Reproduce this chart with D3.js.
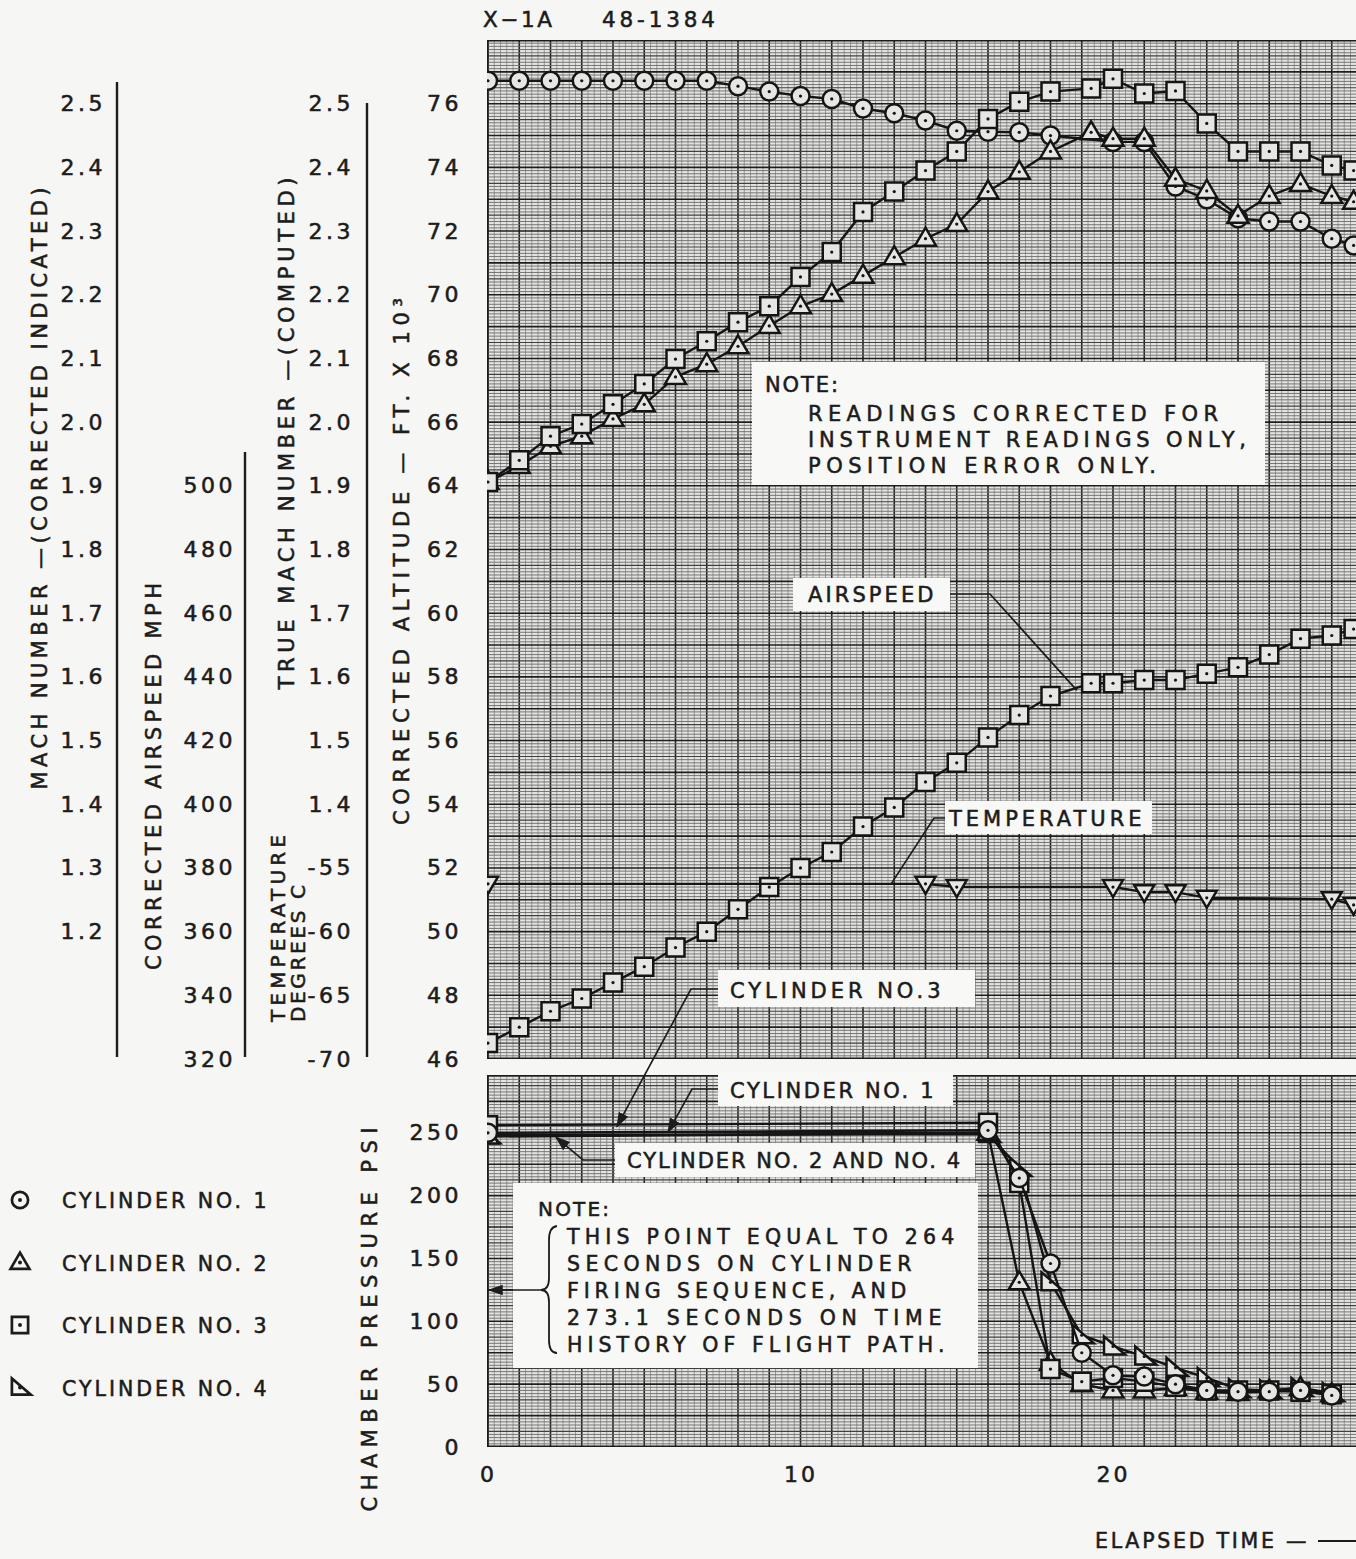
<!DOCTYPE html>
<html>
<head>
<meta charset="utf-8">
<script src="https://cdn.jsdelivr.net/npm/d3@7"></script>
<style>
body { margin: 0; background: #f6f6f4; }
text { font-family: "DejaVu Sans", sans-serif; fill: #1c1c1c; stroke: #1c1c1c; stroke-width: 0.55px; }
</style>
</head>
<body>
<div id="chart"></div>
<script>
// X-1A 48-1384 time history

// upper panel: seconds where the mach / airspeed points were plotted
var upperTime = [0,1,2,3,4,5,6,7,8,9,10,11,12,13,14,15,16,17,18,19.3,20,21,22,23,24,25,26,27,27.7];
var indicatedMach = [1.906,1.940,1.978,1.997,2.028,2.060,2.099,2.127,2.157,2.182,2.228,2.267,2.330,2.362,2.395,
                     2.425,2.476,2.503,2.519,2.524,2.539,2.516,2.520,2.469,2.425,2.425,2.425,2.403,2.395];
var trueMach = [1.906,1.931,1.962,1.978,2.005,2.028,2.071,2.091,2.119,2.151,2.182,2.201,2.230,2.259,2.288,
                2.311,2.362,2.393,2.425,2.455,2.445,2.445,2.382,2.363,2.324,2.355,2.374,2.355,2.346];
var airspeed = [325,330,335,339,344,349,355,360,367,374,380,385,393,399,407,413,421,428,434,438,438,439,439,441,443,447,452,453,455];

var altitudeTime = [0,1,2,3,4,5,6,7,8,9,10,11,12,13,14,15,16,17,18,20,21,22,23,24,25,26,27,27.7];
var altitude = [76.72,76.72,76.72,76.72,76.72,76.72,76.72,76.72,76.55,76.38,76.24,76.15,75.85,75.7,75.47,75.15,75.12,75.1,75.0,
                74.8,74.8,73.4,73.0,72.4,72.3,72.3,71.76,71.55];

var tempTime = [0,14,15,20,21,22,23,27,27.7];
var temperature = [-56.25,-56.25,-56.5,-56.5,-56.9,-56.9,-57.35,-57.45,-57.9];

// lower panel: chamber pressure of the four rocket cylinders
var pressureTime = [0,16,17,18,19,20,21,22,23,24,25,26,27];
var cylinder1 = [250,252,214,146,75,57,56,50,45,44,44,45,41];
var cylinder2 = [247,250,131,67,50,45,45,47,44,43,45,47,42];
var cylinder3 = [256,258,210,62,52,55,52,48,45,45,45,44,42];
var cylinder4 = [248,249,222,131,89,80,72,63,55,46,45,47,43];

// tick labels
var xTicks = [0, 10, 20];
var indMachTicks = [2.5,2.4,2.3,2.2,2.1,2.0,1.9,1.8,1.7,1.6,1.5,1.4,1.3,1.2];
var speedTicks = [500,480,460,440,420,400,380,360,340,320];
var trueMachTicks = [2.5,2.4,2.3,2.2,2.1,2.0,1.9,1.8,1.7,1.6,1.5,1.4];
var tempTicks = [-55,-60,-65,-70];
var altTicks = [76,74,72,70,68,66,64,62,60,58,56,54,52,50,48,46];
var pressureTicks = [250,200,150,100,50,0];

var width = 1356, height = 1559;
var plotLeft = 487, plotRight = 1362;
var upTop = 40, upBottom = 1059;
var lowTop = 1075, lowBottom = 1447;

var svg = d3.select("#chart").append("svg")
    .attr("width", width)
    .attr("height", height);

var xScale = d3.scaleLinear().domain([0, 28]).range([488, 488 + 28 * 31.25]);
// all upper scales share the same paper, only the units differ
var altScale = d3.scaleLinear().domain([46, 78]).range([upBottom, upTop]);
var machScale = d3.scaleLinear().domain([1.0, 2.6]).range([upBottom, upTop]);
var speedScale = d3.scaleLinear().domain([320, 640]).range([upBottom, upTop]);
var tempScale = d3.scaleLinear().domain([-70, 10]).range([upBottom, upTop]);
var pressScale = d3.scaleLinear().domain([0, 296]).range([lowBottom, lowTop]);

var defs = svg.append("defs");
defs.append("clipPath").attr("id", "clipUp").append("rect")
    .attr("x", plotLeft).attr("y", upTop).attr("width", plotRight - plotLeft).attr("height", upBottom - upTop);
defs.append("clipPath").attr("id", "clipLow").append("rect")
    .attr("x", plotLeft).attr("y", lowTop).attr("width", plotRight - plotLeft).attr("height", lowBottom - lowTop);
defs.append("marker").attr("id", "arrow")
    .attr("viewBox", "0 0 10 10").attr("refX", 9).attr("refY", 5)
    .attr("markerWidth", 9).attr("markerHeight", 9).attr("orient", "auto-start-reverse")
    .append("path").attr("d", "M0,1.5L10,5L0,8.5Z").attr("fill", "#1c1c1c");

// graph paper
function drawGrid(clipId, yScale, fineStep, midStep, majorStep) {
    var g = svg.append("g").attr("clip-path", "url(#" + clipId + ")");
    var yd = yScale.domain(), yr = yScale.range();
    g.append("rect").attr("x", plotLeft).attr("y", yr[1])
        .attr("width", plotRight - plotLeft).attr("height", yr[0] - yr[1]).attr("fill", "#e4e4e2");
    var nV = Math.round(28 / 0.2);
    for (var i = 0; i <= nV; i++) {
        var t = i * 0.2;
        var major = (i % 5 == 0);
        g.append("line")
            .attr("x1", xScale(t)).attr("x2", xScale(t))
            .attr("y1", yr[1]).attr("y2", yr[0])
            .attr("stroke", major ? "#202020" : "#8a8a8a")
            .attr("stroke-width", major ? 1.6 : 0.8);
    }
    var nH = Math.round((yd[1] - yd[0]) / fineStep);
    for (var j = 0; j <= nH; j++) {
        var v = yd[0] + j * fineStep;
        var isMajor = (j % Math.round(majorStep / fineStep) == 0);
        var isMid = (j % Math.round(midStep / fineStep) == 0);
        g.append("line")
            .attr("x1", plotLeft).attr("x2", plotRight)
            .attr("y1", yScale(v)).attr("y2", yScale(v))
            .attr("stroke", isMajor ? "#1e1e1e" : (isMid ? "#404040" : "#6a6a6a"))
            .attr("stroke-width", isMajor ? 1.6 : (isMid ? 1.2 : 0.9));
    }
    g.append("rect").attr("x", plotLeft).attr("y", yr[1])
        .attr("width", plotRight - plotLeft).attr("height", yr[0] - yr[1])
        .attr("fill", "none").attr("stroke", "#1c1c1c").attr("stroke-width", 3);
}
drawGrid("clipUp", altScale, 0.1, 0.5, 1);
drawGrid("clipLow", pressScale, 2.5, 12.5, 25);

// white label patches laid over the paper
function patch(x, y, w, h) {
    svg.append("rect").attr("x", x).attr("y", y).attr("width", w).attr("height", h).attr("fill", "#f8f8f6");
}
patch(752, 362, 513, 123);
patch(793, 578, 157, 33);
patch(945, 801, 207, 33);
patch(718, 970, 257, 37);
patch(718, 1073, 235, 33);
patch(615, 1143, 360, 34);
patch(513, 1183, 465, 185);

function label(x, y, str, size, spacing, len) {
    var t = svg.append("text").attr("x", x).attr("y", y)
        .attr("font-size", size).attr("letter-spacing", spacing).text(str);
    if (len) t.attr("textLength", len).attr("lengthAdjust", "spacing");
    return t;
}

// series helpers
var shapes = {
    circle: "M9,0A9,9 0 1,1 -9,0A9,9 0 1,1 9,0Z",
    square: "M-9,-9H9V9H-9Z",
    triUp: "M0,-11L10.5,7H-10.5Z",
    triDown: "M-10,-7H10L0,10Z",
    triRight: "M-9,-10L-9,8H12Z"
};

function drawSeries(clipId, times, values, yScale, shape) {
    var pts = times.map(function (t, i) { return [t, values[i]]; });
    var g = svg.append("g").attr("clip-path", "url(#" + clipId + ")");
    var line = d3.line()
        .x(function (d) { return xScale(d[0]); })
        .y(function (d) { return yScale(d[1]); });
    g.append("path").datum(pts).attr("d", line)
        .attr("fill", "none").attr("stroke", "#151515").attr("stroke-width", 2.4);
    var m = g.selectAll(".pt").data(pts).enter().append("g")
        .attr("transform", function (d) { return "translate(" + xScale(d[0]) + "," + yScale(d[1]) + ")"; });
    m.append("path").attr("d", shapes[shape])
        .attr("fill", "#e6e6e4").attr("stroke", "#151515").attr("stroke-width", 2.5);
    m.append("circle").attr("r", 1.6).attr("fill", "#151515");
}

drawSeries("clipUp", altitudeTime, altitude, altScale, "circle");
drawSeries("clipUp", upperTime, trueMach, machScale, "triUp");
drawSeries("clipUp", upperTime, indicatedMach, machScale, "square");
drawSeries("clipUp", upperTime, airspeed, speedScale, "square");
drawSeries("clipUp", tempTime, temperature, tempScale, "triDown");

drawSeries("clipLow", pressureTime, cylinder4, pressScale, "triRight");
drawSeries("clipLow", pressureTime, cylinder2, pressScale, "triUp");
drawSeries("clipLow", pressureTime, cylinder3, pressScale, "square");
drawSeries("clipLow", pressureTime, cylinder1, pressScale, "circle");

// leaders from the label boxes
function leader(points, arrow) {
    var p = svg.append("path").attr("d", d3.line()(points))
        .attr("fill", "none").attr("stroke", "#1c1c1c").attr("stroke-width", 1.7);
    if (arrow) p.attr("marker-end", "url(#arrow)");
}
leader([[950, 594], [990, 594], [xScale(19.1) - 8, speedScale(437) + 4]], false);
leader([[945, 818], [934, 818], [xScale(12.9), tempScale(-56.25)]], false);
leader([[718, 989], [691, 989], [617, pressScale(252) - 4]], true);
leader([[718, 1089], [692, 1089], [668, pressScale(249) - 2]], true);
leader([[615, 1160], [583, 1160], [556, pressScale(248) + 2]], true);

// note text boxes
label(765, 392, "NOTE:", 21, 3, 76);
label(808, 421, "READINGS  CORRECTED FOR", 21, 4, 414);
label(808, 447, "INSTRUMENT READINGS ONLY,", 21, 4, 442);
label(808, 473, "POSITION  ERROR  ONLY.", 21, 4, 352);

label(808, 602, "AIRSPEED", 21, 3.5, 129);
label(949, 826, "TEMPERATURE", 21, 3.5, 196);
label(730, 998, "CYLINDER  NO.3", 21, 3.5, 214);
label(730, 1098, "CYLINDER NO. 1", 21, 3.5, 207);
label(627, 1168, "CYLINDER NO. 2 AND NO. 4", 21, 3, 336);

label(538, 1216, "NOTE:", 20, 3, 74);
var noteLines = ["THIS POINT  EQUAL TO 264", "SECONDS  ON  CYLINDER", "FIRING SEQUENCE, AND",
                 "273.1  SECONDS  ON  TIME", "HISTORY  OF  FLIGHT  PATH."];
var noteLens = [391, 348, 343, 378, 381];
noteLines.forEach(function (s, i) {
    label(567, 1244 + i * 27, s, 20.5, 3.6, noteLens[i]);
});
svg.append("path")
    .attr("d", "M557,1226 Q549,1227 549,1240 L549,1278 Q549,1290 541,1290 Q549,1290 549,1302 L549,1340 Q549,1353 557,1353")
    .attr("fill", "none").attr("stroke", "#1c1c1c").attr("stroke-width", 1.8);
leader([[541, 1290], [489, 1290]], true);

// axes: text only, as on the original sheet
function tickAxis(x, scale, ticks, fmt) {
    var g = svg.append("g").attr("transform", "translate(" + x + ",0)")
        .call(d3.axisLeft(scale).tickValues(ticks).tickSize(0).tickPadding(0).tickFormat(fmt));
    g.select(".domain").remove();
    g.selectAll("text").attr("font-size", 22).attr("letter-spacing", 3.5)
        .attr("font-family", "DejaVu Sans").attr("fill", "#1c1c1c");
    return g;
}
tickAxis(106, machScale, indMachTicks, d3.format(".1f"));
tickAxis(236, speedScale, speedTicks, d3.format("d"));
tickAxis(354, machScale, trueMachTicks, d3.format(".1f"));
tickAxis(354, tempScale, tempTicks, function (d) { return "-" + Math.abs(d); });
tickAxis(462, altScale, altTicks, d3.format("d"));
tickAxis(462, pressScale, pressureTicks, d3.format("d"));

var xg = svg.append("g").attr("transform", "translate(0," + lowBottom + ")")
    .call(d3.axisBottom(xScale).tickValues(xTicks).tickSize(0).tickPadding(19));
xg.select(".domain").remove();
xg.selectAll("text").attr("font-size", 22).attr("letter-spacing", 3)
    .attr("font-family", "DejaVu Sans").attr("fill", "#1c1c1c");

// scale rules between the label columns
function rule(x, y1, y2) {
    svg.append("line").attr("x1", x).attr("x2", x).attr("y1", y1).attr("y2", y2)
        .attr("stroke", "#1c1c1c").attr("stroke-width", 2.4);
}
rule(117, 82, 1057);
rule(245, 452, 1057);
rule(367, 103, 1057);

// axis titles
function vTitle(cx, cy, str, size, len, anchor) {
    svg.append("text").attr("transform", "translate(" + cx + "," + cy + ") rotate(-90)")
        .attr("font-size", size).attr("letter-spacing", 3)
        .attr("text-anchor", anchor || "middle")
        .attr("textLength", len).attr("lengthAdjust", "spacing").text(str);
}
vTitle(47, 487, "MACH NUMBER —(CORRECTED INDICATED)", 21, 605);
vTitle(161, 775, "CORRECTED AIRSPEED MPH", 21, 390);
vTitle(294, 432, "TRUE MACH NUMBER —(COMPUTED)", 21, 515);
vTitle(285, 1022, "TEMPERATURE", 20, 190, "start");
vTitle(305, 1022, "DEGREES C", 20, 140, "start");
vTitle(409, 560, "CORRECTED ALTITUDE — FT. X 10³", 21, 530);
vTitle(377, 1318, "CHAMBER PRESSURE PSI", 21, 387);

// header and footer
label(483, 27, "X−1A", 21.5, 3, 72);
label(602, 27, "48-1384", 21.5, 3, 116);
label(1095, 1548, "ELAPSED   TIME —", 20.5, 3.5, 215);
svg.append("line").attr("x1", 1318).attr("x2", 1356).attr("y1", 1541).attr("y2", 1541)
    .attr("stroke", "#1c1c1c").attr("stroke-width", 1.8);

// legend for the cylinder symbols
var legendItems = [["circle", "CYLINDER NO. 1"], ["triUp", "CYLINDER NO. 2"],
                   ["square", "CYLINDER NO. 3"], ["triRight", "CYLINDER NO. 4"]];
legendItems.forEach(function (item, i) {
    var y = 1200 + i * 62.5;
    var g = svg.append("g").attr("transform", "translate(20," + y + ") scale(0.9)");
    g.append("path").attr("d", shapes[item[0]]).attr("fill", "none")
        .attr("stroke", "#1c1c1c").attr("stroke-width", 3);
    g.append("circle").attr("r", 2.2).attr("fill", "#1c1c1c");
    label(62, y + 8, item[1], 20.5, 3.5, 208);
});
</script>
</body>
</html>
